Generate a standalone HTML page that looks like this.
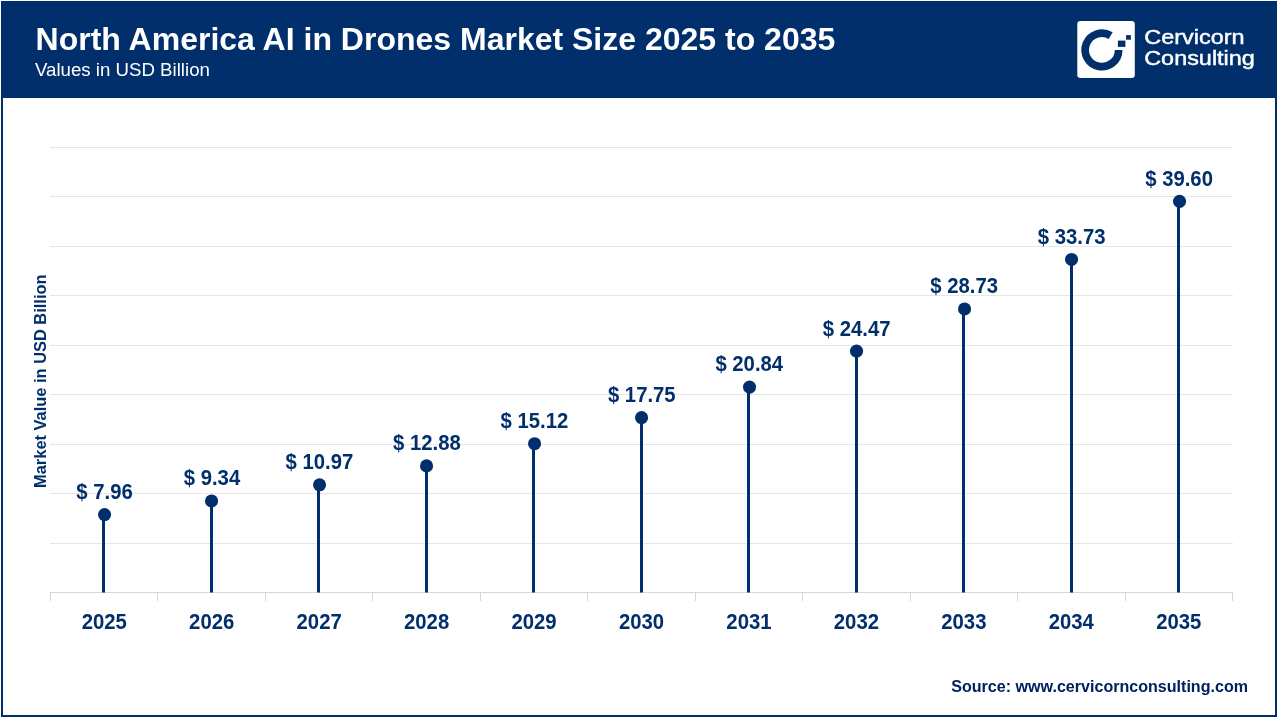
<!DOCTYPE html>
<html><head><meta charset="utf-8"><title>North America AI in Drones Market Size 2025 to 2035</title>
<style>
html,body{margin:0;padding:0;background:#fff;}
body{width:1280px;height:720px;overflow:hidden;font-family:"Liberation Sans",sans-serif;}
svg{display:block;will-change:transform;}
text{font-family:"Liberation Sans",sans-serif;}
.b{font-weight:bold;}
</style></head><body>
<svg width="1280" height="720" viewBox="0 0 1280 720">
<rect x="0" y="0" width="1280" height="720" fill="#ffffff"/>
<rect x="2" y="2" width="1274" height="714" fill="#ffffff" stroke="#002F6C" stroke-width="2"/>
<rect x="1" y="1" width="1276" height="97" fill="#002F6C"/>
<rect x="2" y="2" width="1274" height="95" fill="#002F6C"/>
<text class="b" x="35.6" y="50" font-size="32" fill="#ffffff">North America AI in Drones Market Size 2025 to 2035</text>
<text x="35" y="75.7" font-size="18.67" fill="#ffffff">Values in USD Billion</text>
<rect x="1077.3" y="20.9" width="57.5" height="57.1" rx="3.2" ry="3.2" fill="#ffffff"/>
<path d="M1110.65 35.62 A16.75 16.75 0 1 0 1118.65 49.90" fill="none" stroke="#002F6C" stroke-width="7.7"/>
<rect x="1117.9" y="40.6" width="7.5" height="6.3" fill="#002F6C"/>
<rect x="1126.1" y="35.1" width="4.8" height="4.6" fill="#002F6C"/>
<text x="1144.2" y="44.3" font-size="21.0" fill="#ffffff" stroke="#ffffff" stroke-width="0.45" textLength="100.4" lengthAdjust="spacingAndGlyphs">Cervicorn</text>
<text x="1144.2" y="65.2" font-size="21.0" fill="#ffffff" stroke="#ffffff" stroke-width="0.45" textLength="110.7" lengthAdjust="spacingAndGlyphs">Consulting</text>
<rect x="50" y="543" width="1183" height="1" fill="#E6E6E6"/>
<rect x="50" y="493" width="1183" height="1" fill="#E6E6E6"/>
<rect x="50" y="444" width="1183" height="1" fill="#E6E6E6"/>
<rect x="50" y="394" width="1183" height="1" fill="#E6E6E6"/>
<rect x="50" y="345" width="1183" height="1" fill="#E6E6E6"/>
<rect x="50" y="295" width="1183" height="1" fill="#E6E6E6"/>
<rect x="50" y="246" width="1183" height="1" fill="#E6E6E6"/>
<rect x="50" y="196" width="1183" height="1" fill="#E6E6E6"/>
<rect x="50" y="147" width="1183" height="1" fill="#E6E6E6"/>
<rect x="50" y="592" width="1183" height="1" fill="#D6D6D6"/>
<rect x="50" y="592" width="1" height="9" fill="#D6D6D6"/>
<rect x="157" y="592" width="1" height="9" fill="#D6D6D6"/>
<rect x="265" y="592" width="1" height="9" fill="#D6D6D6"/>
<rect x="372" y="592" width="1" height="9" fill="#D6D6D6"/>
<rect x="480" y="592" width="1" height="9" fill="#D6D6D6"/>
<rect x="587" y="592" width="1" height="9" fill="#D6D6D6"/>
<rect x="695" y="592" width="1" height="9" fill="#D6D6D6"/>
<rect x="802" y="592" width="1" height="9" fill="#D6D6D6"/>
<rect x="910" y="592" width="1" height="9" fill="#D6D6D6"/>
<rect x="1017" y="592" width="1" height="9" fill="#D6D6D6"/>
<rect x="1125" y="592" width="1" height="9" fill="#D6D6D6"/>
<rect x="1232" y="592" width="1" height="9" fill="#D6D6D6"/>
<rect x="102" y="514.60" width="3" height="77.90" fill="#002F6C"/>
<circle cx="104.55" cy="514.60" r="6.55" fill="#002F6C"/>
<text class="b" transform="translate(104.53 499.00) scale(0.923 1)" text-anchor="middle" font-size="22.0" fill="#002F6C">$ 7.96</text>
<text class="b" transform="translate(104.23 629.0) scale(0.937 1)" text-anchor="middle" font-size="21.7" fill="#002F6C">2025</text>
<rect x="210" y="500.93" width="3" height="91.57" fill="#002F6C"/>
<circle cx="211.55" cy="500.93" r="6.55" fill="#002F6C"/>
<text class="b" transform="translate(211.98 485.33) scale(0.923 1)" text-anchor="middle" font-size="22.0" fill="#002F6C">$ 9.34</text>
<text class="b" transform="translate(211.68 629.0) scale(0.937 1)" text-anchor="middle" font-size="21.7" fill="#002F6C">2026</text>
<rect x="317" y="484.80" width="3" height="107.70" fill="#002F6C"/>
<circle cx="319.55" cy="484.80" r="6.55" fill="#002F6C"/>
<text class="b" transform="translate(319.44 469.20) scale(0.923 1)" text-anchor="middle" font-size="22.0" fill="#002F6C">$ 10.97</text>
<text class="b" transform="translate(319.14 629.0) scale(0.937 1)" text-anchor="middle" font-size="21.7" fill="#002F6C">2027</text>
<rect x="425" y="465.89" width="3" height="126.61" fill="#002F6C"/>
<circle cx="426.55" cy="465.89" r="6.55" fill="#002F6C"/>
<text class="b" transform="translate(426.89 450.29) scale(0.923 1)" text-anchor="middle" font-size="22.0" fill="#002F6C">$ 12.88</text>
<text class="b" transform="translate(426.59 629.0) scale(0.937 1)" text-anchor="middle" font-size="21.7" fill="#002F6C">2028</text>
<rect x="532" y="443.71" width="3" height="148.79" fill="#002F6C"/>
<circle cx="534.55" cy="443.71" r="6.55" fill="#002F6C"/>
<text class="b" transform="translate(534.35 428.11) scale(0.923 1)" text-anchor="middle" font-size="22.0" fill="#002F6C">$ 15.12</text>
<text class="b" transform="translate(534.05 629.0) scale(0.937 1)" text-anchor="middle" font-size="21.7" fill="#002F6C">2029</text>
<rect x="640" y="417.67" width="3" height="174.83" fill="#002F6C"/>
<circle cx="641.55" cy="417.67" r="6.55" fill="#002F6C"/>
<text class="b" transform="translate(641.80 402.07) scale(0.923 1)" text-anchor="middle" font-size="22.0" fill="#002F6C">$ 17.75</text>
<text class="b" transform="translate(641.50 629.0) scale(0.937 1)" text-anchor="middle" font-size="21.7" fill="#002F6C">2030</text>
<rect x="747" y="387.08" width="3" height="205.42" fill="#002F6C"/>
<circle cx="749.55" cy="387.08" r="6.55" fill="#002F6C"/>
<text class="b" transform="translate(749.25 371.48) scale(0.923 1)" text-anchor="middle" font-size="22.0" fill="#002F6C">$ 20.84</text>
<text class="b" transform="translate(748.95 629.0) scale(0.937 1)" text-anchor="middle" font-size="21.7" fill="#002F6C">2031</text>
<rect x="855" y="351.15" width="3" height="241.35" fill="#002F6C"/>
<circle cx="856.55" cy="351.15" r="6.55" fill="#002F6C"/>
<text class="b" transform="translate(856.71 335.55) scale(0.923 1)" text-anchor="middle" font-size="22.0" fill="#002F6C">$ 24.47</text>
<text class="b" transform="translate(856.41 629.0) scale(0.937 1)" text-anchor="middle" font-size="21.7" fill="#002F6C">2032</text>
<rect x="962" y="308.97" width="3" height="283.53" fill="#002F6C"/>
<circle cx="964.55" cy="308.97" r="6.55" fill="#002F6C"/>
<text class="b" transform="translate(964.16 293.37) scale(0.923 1)" text-anchor="middle" font-size="22.0" fill="#002F6C">$ 28.73</text>
<text class="b" transform="translate(963.86 629.0) scale(0.937 1)" text-anchor="middle" font-size="21.7" fill="#002F6C">2033</text>
<rect x="1070" y="259.47" width="3" height="333.03" fill="#002F6C"/>
<circle cx="1071.55" cy="259.47" r="6.55" fill="#002F6C"/>
<text class="b" transform="translate(1071.62 243.87) scale(0.923 1)" text-anchor="middle" font-size="22.0" fill="#002F6C">$ 33.73</text>
<text class="b" transform="translate(1071.32 629.0) scale(0.937 1)" text-anchor="middle" font-size="21.7" fill="#002F6C">2034</text>
<rect x="1177" y="201.36" width="3" height="391.14" fill="#002F6C"/>
<circle cx="1179.55" cy="201.36" r="6.55" fill="#002F6C"/>
<text class="b" transform="translate(1179.07 185.76) scale(0.923 1)" text-anchor="middle" font-size="22.0" fill="#002F6C">$ 39.60</text>
<text class="b" transform="translate(1178.77 629.0) scale(0.937 1)" text-anchor="middle" font-size="21.7" fill="#002F6C">2035</text>
<text class="b" transform="translate(46.2 381.2) rotate(-90) scale(0.99 1)" text-anchor="middle" font-size="16.6" fill="#002F6C">Market Value in USD Billion</text>
<text class="b" transform="translate(1248 692) scale(0.969 1)" text-anchor="end" font-size="16.6" fill="#002060">Source: www.cervicornconsulting.com</text>
</svg>
</body></html>
